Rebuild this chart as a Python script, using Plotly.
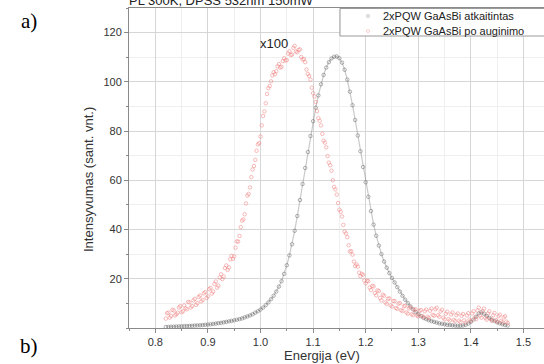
import plotly.graph_objects as go

# Energy grid (eV)
energy = [
    0.820, 0.825, 0.830, 0.835, 0.840, 0.845, 0.850, 0.855, 0.860, 0.865,
    0.870, 0.875, 0.880, 0.885, 0.890, 0.895, 0.900, 0.905, 0.910, 0.915,
    0.920, 0.925, 0.930, 0.935, 0.940, 0.945, 0.950, 0.955, 0.960, 0.965,
    0.970, 0.975, 0.980, 0.985, 0.990, 0.995, 1.000, 1.005, 1.010, 1.015,
    1.020, 1.025, 1.030, 1.035, 1.040, 1.045, 1.050, 1.055, 1.060, 1.065,
    1.070, 1.075, 1.080, 1.085, 1.090, 1.095, 1.100, 1.105, 1.110, 1.115,
    1.120, 1.125, 1.130, 1.135, 1.140, 1.145, 1.150, 1.155, 1.160, 1.165,
    1.170, 1.175, 1.180, 1.185, 1.190, 1.195, 1.200, 1.205, 1.210, 1.215,
    1.220, 1.225, 1.230, 1.235, 1.240, 1.245, 1.250, 1.255, 1.260, 1.265,
    1.270, 1.275, 1.280, 1.285, 1.290, 1.295, 1.300, 1.305, 1.310, 1.315,
    1.320, 1.325, 1.330, 1.335, 1.340, 1.345, 1.350, 1.355, 1.360, 1.365,
    1.370, 1.375, 1.380, 1.385, 1.390, 1.395, 1.400, 1.405, 1.410, 1.415,
    1.420, 1.425, 1.430, 1.435, 1.440, 1.445, 1.450, 1.455, 1.460, 1.465,
    1.470,
]

# 2xPQW GaAsBi atkaitintas (annealed)
annealed = [
    0.40, 0.45, 0.50, 0.55, 0.60, 0.65, 0.70, 0.75, 0.80, 0.85,
    0.90, 1.00, 1.05, 1.10, 1.20, 1.30, 1.40, 1.50, 1.65, 1.80,
    1.95, 2.10, 2.30, 2.50, 2.70, 2.90, 3.10, 3.35, 3.60, 3.90,
    4.30, 4.70, 5.10, 5.60, 6.20, 6.80, 7.50, 8.30, 9.30, 10.4,
    11.7, 13.1, 14.8, 16.8, 19.0, 22.0, 25.5, 29.5, 34.0, 39.5,
    45.5, 52.0, 58.5, 65.0, 71.5, 78.0, 84.0, 89.5, 94.5, 99.0,
    102.8, 105.8, 108.0, 109.5, 110.2, 110.3, 109.6, 107.8, 104.9, 100.9,
    96.0, 90.5, 84.5, 78.2, 71.8, 65.4, 59.2, 53.3, 47.5, 42.0,
    37.5, 33.5, 30.0, 27.0, 24.5, 22.3, 20.3, 18.5, 16.6, 14.8,
    13.1, 11.5, 10.1, 8.8, 7.6, 6.5, 5.6, 4.8, 4.1, 3.6,
    3.2, 2.8, 2.5, 2.2, 1.9, 1.7, 1.5, 1.3, 1.2, 1.1,
    1.0, 0.9, 0.9, 1.0, 1.3, 1.8, 2.5, 3.4, 4.6, 5.9,
    6.4, 5.8, 4.9, 4.1, 3.4, 2.8, 2.3, 1.9, 1.5, 1.2,
    1.0,
]

# 2xPQW GaAsBi po auginimo (as grown, x100) on the main grid
as_grown = [
    3.8, 6.2, 4.9, 7.1, 5.6, 8.3, 6.4, 9.2, 7.6, 10.4,
    8.9, 11.8, 10.1, 13.2, 11.4, 14.6, 12.9, 16.3, 14.8, 18.9,
    17.2, 21.8, 20.9, 25.4, 24.6, 29.3, 29.1, 35.2, 37.4, 43.6,
    46.2, 53.8, 57.1, 64.4, 68.3, 74.6, 77.8, 86.1, 91.3, 97.4,
    100.2, 103.9, 104.3, 107.2, 106.1, 109.6, 108.8, 112.4, 111.1, 114.6,
    112.0, 113.2, 109.1, 108.0, 103.2, 100.9, 95.4, 91.8, 85.2, 82.3,
    76.1, 73.4, 67.2, 63.9, 57.3, 54.2, 48.1, 45.3, 39.2, 36.9,
    31.1, 29.8, 25.2, 24.9, 21.1, 21.6, 18.1, 19.0, 15.4, 16.9,
    13.3, 15.0, 11.2, 13.1, 9.8, 12.0, 8.7, 10.9, 7.8, 10.1,
    6.9, 9.0, 5.8, 8.4, 5.2, 7.6, 4.7, 7.3, 4.4, 7.5,
    4.1, 7.9, 5.0, 8.2, 4.6, 7.4, 3.5, 6.6, 3.0, 6.3,
    2.8, 5.9, 2.4, 5.7, 2.2, 6.0, 2.9, 6.8, 3.6, 8.3,
    4.2, 7.9, 3.4, 6.8, 2.9, 6.1, 2.6, 5.4, 2.3, 4.8,
    2.0,
]

# Intermediate energies of the as-grown spectrum (eV)
energy_mid = [
    0.8225, 0.8275, 0.8325, 0.8375, 0.8425, 0.8475, 0.8525, 0.8575, 0.8625, 0.8675,
    0.8725, 0.8775, 0.8825, 0.8875, 0.8925, 0.8975, 0.9025, 0.9075, 0.9125, 0.9175,
    0.9225, 0.9275, 0.9325, 0.9375, 0.9425, 0.9475, 0.9525, 0.9575, 0.9625, 0.9675,
    0.9725, 0.9775, 0.9825, 0.9875, 0.9925, 0.9975, 1.0025, 1.0075, 1.0125, 1.0175,
    1.0225, 1.0275, 1.0325, 1.0375, 1.0425, 1.0475, 1.0525, 1.0575, 1.0625, 1.0675,
    1.0725, 1.0775, 1.0825, 1.0875, 1.0925, 1.0975, 1.1025, 1.1075, 1.1125, 1.1175,
    1.1225, 1.1275, 1.1325, 1.1375, 1.1425, 1.1475, 1.1525, 1.1575, 1.1625, 1.1675,
    1.1725, 1.1775, 1.1825, 1.1875, 1.1925, 1.1975, 1.2025, 1.2075, 1.2125, 1.2175,
    1.2225, 1.2275, 1.2325, 1.2375, 1.2425, 1.2475, 1.2525, 1.2575, 1.2625, 1.2675,
    1.2725, 1.2775, 1.2825, 1.2875, 1.2925, 1.2975, 1.3025, 1.3075, 1.3125, 1.3175,
    1.3225, 1.3275, 1.3325, 1.3375, 1.3425, 1.3475, 1.3525, 1.3575, 1.3625, 1.3675,
    1.3725, 1.3775, 1.3825, 1.3875, 1.3925, 1.3975, 1.4025, 1.4075, 1.4125, 1.4175,
    1.4225, 1.4275, 1.4325, 1.4375, 1.4425, 1.4475, 1.4525, 1.4575, 1.4625, 1.4675,
]

as_grown_mid = [
    6.0, 4.2, 7.4, 5.1, 6.2, 8.9, 6.8, 8.0, 10.6, 8.3,
    11.2, 9.4, 12.6, 10.8, 14.1, 12.2, 15.8, 14.0, 17.9, 16.4,
    20.5, 19.9, 24.3, 23.6, 27.9, 28.1, 32.6, 35.1, 41.0, 44.1,
    50.6, 54.5, 61.3, 65.8, 72.0, 75.1, 82.3, 88.0, 95.1, 98.3,
    102.6, 103.1, 106.3, 105.8, 108.4, 108.7, 111.5, 110.9, 113.8, 112.3,
    113.0, 110.1, 109.2, 105.0, 102.4, 97.6, 94.0, 88.1, 84.2, 78.9,
    75.3, 69.8, 66.1, 60.0, 56.3, 50.8, 47.2, 41.9, 38.4, 33.6,
    31.2, 27.0, 25.8, 22.5, 22.0, 19.3, 19.2, 16.4, 17.1, 14.2,
    15.3, 12.2, 13.5, 10.4, 11.9, 9.2, 11.0, 8.1, 9.9, 7.2,
    8.8, 6.3, 8.0, 5.6, 7.3, 5.1, 6.9, 4.9, 6.8, 4.6,
    7.0, 5.3, 7.6, 5.2, 6.7, 4.2, 5.8, 3.6, 5.5, 3.3,
    5.2, 3.0, 5.0, 3.1, 5.1, 3.4, 5.9, 4.3, 7.1, 5.0,
    6.9, 4.1, 5.9, 3.6, 5.2, 3.2, 4.8, 2.9, 4.3, 2.6,
]

series_names = ["2xPQW GaAsBi atkaitintas", "2xPQW GaAsBi po auginimo"]
x_ticks = [0.8, 0.9, 1.0, 1.1, 1.2, 1.3, 1.4, 1.5]
y_ticks = [20, 40, 60, 80, 100, 120]

black_col = "rgba(95,95,95,0.6)"
red_col = "rgba(240,125,125,0.65)"

fig = go.Figure()
# faint trace connecting the dense annealed spectrum points
fig.add_trace(go.Scatter(
    x=energy, y=annealed, mode="lines", showlegend=False, hoverinfo="skip",
    line=dict(color="rgba(120,120,120,0.4)", width=1.2),
))
fig.add_trace(go.Scatter(
    x=energy, y=annealed, mode="markers", name=series_names[0], showlegend=False,
    marker=dict(symbol="circle-open", size=3.5, color=black_col, line=dict(width=0.8)),
))
fig.add_trace(go.Scatter(
    x=energy + energy_mid, y=as_grown + as_grown_mid, mode="markers",
    name=series_names[1], showlegend=False,
    marker=dict(symbol="circle-open", size=3.5, color=red_col, line=dict(width=0.8)),
))

axis_font = dict(family="Arial, Liberation Sans, sans-serif", size=11, color="#333")

fig.update_xaxes(
    range=[0.75, 1.539], tickvals=x_ticks, ticktext=[f"{v:.1f}" for v in x_ticks],
    showline=True, linecolor="#8a8a8a", linewidth=1, mirror=True,
    ticks="outside", ticklen=4, tickcolor="#8a8a8a",
    showgrid=True, gridcolor="#d6d6d6", gridwidth=1,
    minor=dict(dtick=0.05, tick0=0.75, showgrid=True, gridcolor="#efefef",
               ticks="outside", ticklen=2, tickcolor="#8a8a8a"),
    tickfont=axis_font, zeroline=False,
)
fig.update_yaxes(
    range=[0, 130], tickvals=y_ticks,
    showline=True, linecolor="#8a8a8a", linewidth=1, mirror=False,
    ticks="outside", ticklen=4, tickcolor="#8a8a8a",
    showgrid=True, gridcolor="#d6d6d6", gridwidth=1,
    minor=dict(dtick=10, tick0=0, showgrid=True, gridcolor="#efefef",
               ticks="outside", ticklen=2, tickcolor="#8a8a8a"),
    tickfont=axis_font, zeroline=False,
)

# pixel helpers for the plot frame (left 129, top 8, width 415, height 320)
def px(x):
    return (x - 129) / 415

def py(y):
    return (328 - y) / 320

legend_font = dict(family="Arial, Liberation Sans, sans-serif", size=11, color="#222")

shapes = [
    dict(type="rect", xref="paper", yref="paper",
         x0=px(340), x1=px(560), y0=py(36), y1=py(8.5),
         line=dict(color="#9a9a9a", width=1), fillcolor="white", layer="above"),
    dict(type="circle", xref="paper", yref="paper",
         x0=px(366.5), x1=px(369.5), y0=py(17.5), y1=py(14.5),
         line=dict(color="rgba(120,120,120,0.5)", width=0.8), layer="above"),
    dict(type="circle", xref="paper", yref="paper",
         x0=px(366.5), x1=px(369.5), y0=py(32.5), y1=py(29.5),
         line=dict(color="rgba(240,140,140,0.5)", width=0.8), layer="above"),
]

annotations = [
    dict(text=series_names[0], xref="paper", yref="paper", x=px(381), y=py(16),
         xanchor="left", yanchor="middle", showarrow=False, font=legend_font),
    dict(text=series_names[1], xref="paper", yref="paper", x=px(381), y=py(31),
         xanchor="left", yanchor="middle", showarrow=False, font=legend_font),
    dict(text="PL 300K, DPSS 532nm 150mW", xref="paper", yref="paper",
         x=px(127), y=py(1), xanchor="left", yanchor="middle", showarrow=False,
         font=dict(size=13, color="#222")),
    dict(text="x100", xref="x", yref="y", x=1.026, y=115.5,
         xanchor="center", yanchor="middle", showarrow=False,
         font=dict(size=13, color="#222")),
    dict(text="Intensyvumas (sant. vnt.)", xref="paper", yref="paper",
         x=px(88), y=py(180), textangle=-90,
         xanchor="center", yanchor="middle", showarrow=False,
         font=dict(size=13, color="#333")),
    dict(text="Energija (eV)", xref="paper", yref="paper",
         x=px(322), y=py(355),
         xanchor="center", yanchor="middle", showarrow=False,
         font=dict(size=13, color="#333")),
    dict(text="a)", xref="paper", yref="paper",
         x=px(29), y=py(21),
         xanchor="center", yanchor="middle", showarrow=False,
         font=dict(family="Liberation Serif, Times New Roman, serif", size=21, color="#000")),
    dict(text="b)", xref="paper", yref="paper",
         x=px(29), y=py(346),
         xanchor="center", yanchor="middle", showarrow=False,
         font=dict(family="Liberation Serif, Times New Roman, serif", size=21, color="#000")),
]

fig.update_layout(
    width=544, height=364,
    margin=dict(l=129, r=0, t=8, b=36),
    paper_bgcolor="white", plot_bgcolor="white",
    showlegend=False,
    font=dict(family="Arial, Liberation Sans, sans-serif"),
    shapes=shapes,
    annotations=annotations,
)

# remove the default 8px page margin so the figure sits at the window's corner
fig.write_html("out.html", config={"displayModeBar": False},
               post_script="document.body.style.margin='0';")
